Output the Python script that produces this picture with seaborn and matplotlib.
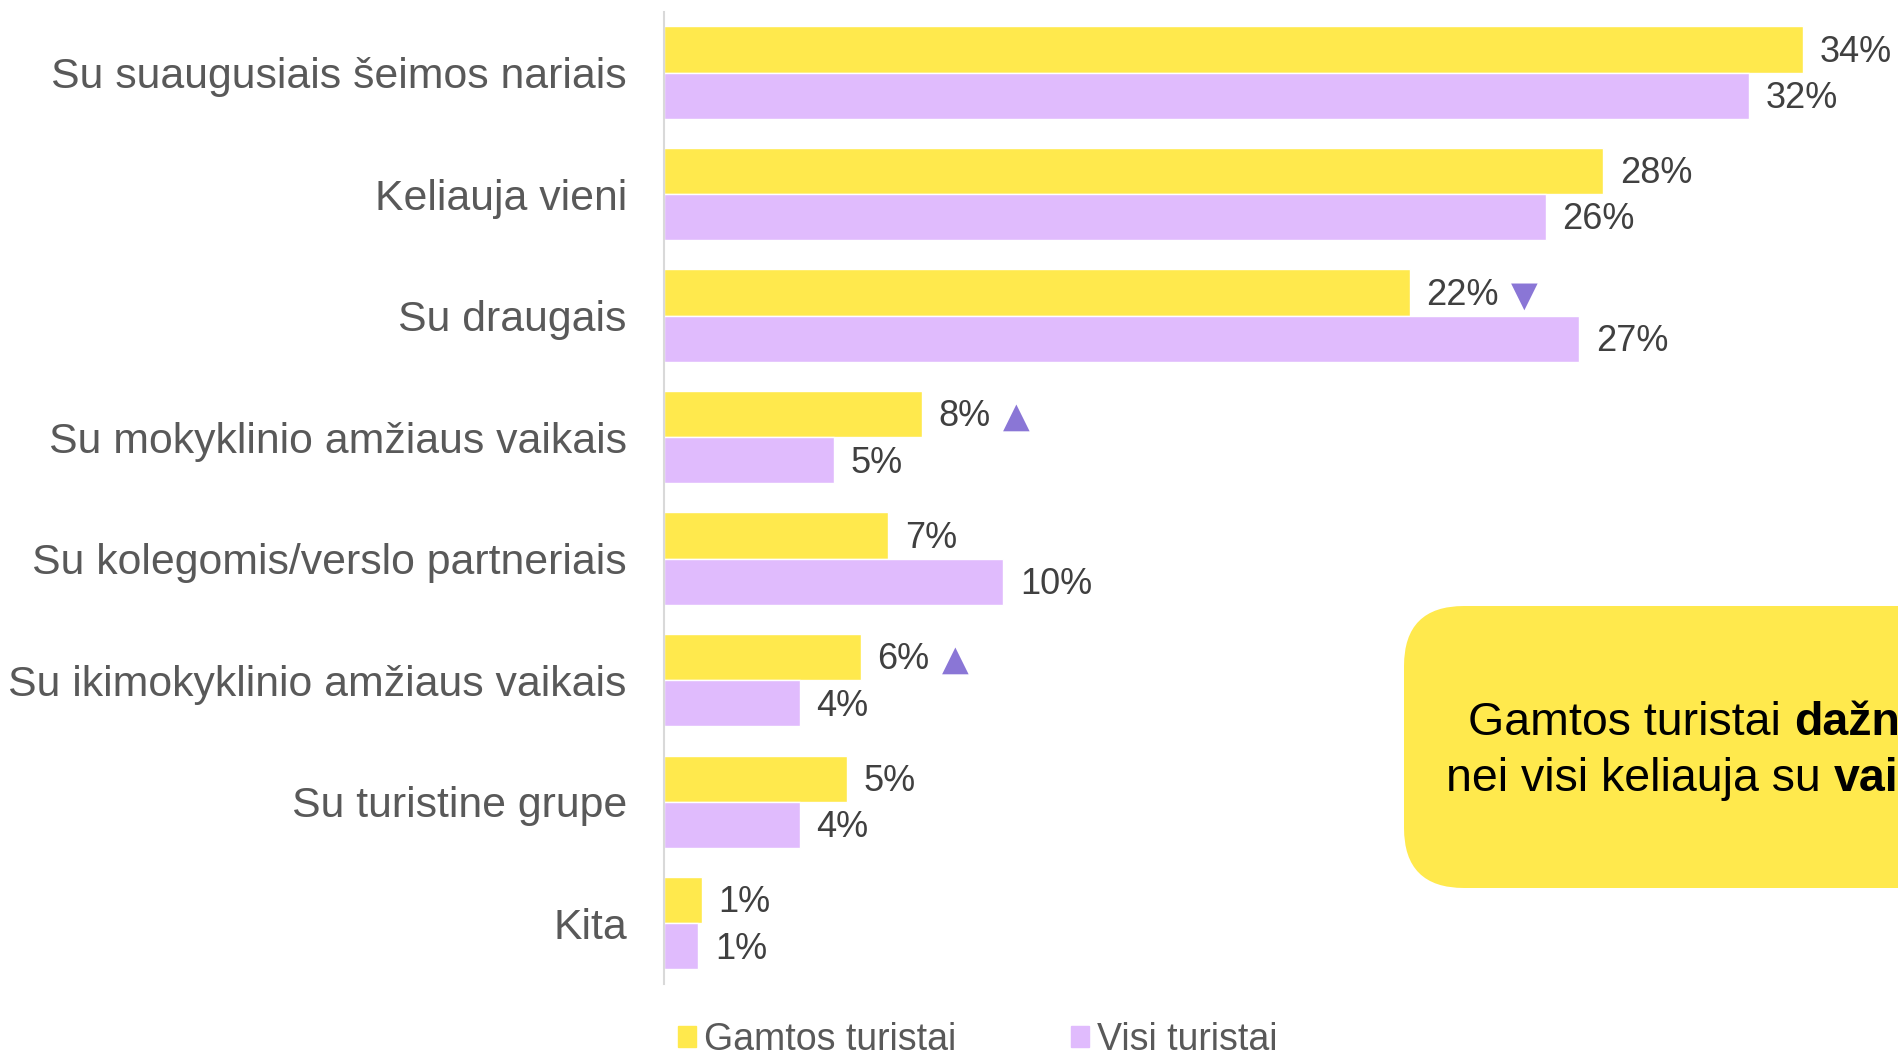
import matplotlib
matplotlib.use("Agg")
import matplotlib.pyplot as plt
import seaborn as sns
import pandas as pd
from matplotlib.patches import FancyBboxPatch
from matplotlib.transforms import IdentityTransform

# =========================================================
# DATA
# =========================================================

categories = [
    "Su suaugusiais šeimos nariais",
    "Keliauja vieni",
    "Su draugais",
    "Su mokyklinio amžiaus vaikais",
    "Su kolegomis/verslo partneriais",
    "Su ikimokyklinio amžiaus vaikais",
    "Su turistine grupe",
    "Kita",
]
gamtos = [33.6, 27.7, 22.0, 7.6, 6.6, 5.8, 5.4, 1.1]
visi = [32.0, 26.0, 27.0, 5.0, 10.0, 4.0, 4.0, 1.0]
signif = ["", "", "down", "up", "", "up", "", ""]   # Gamtos vs visi

groups = ["Gamtos turistai", "Visi turistai"]
colors = ["#FFE94D", "#E0BBFD"]

callout_plain_1 = "Gamtos turistai "
callout_bold_1 = "dažniau"
callout_plain_2 = "nei visi keliauja su "
callout_bold_2 = "vaikais"

df = pd.DataFrame({
    "category": categories * 2,
    "value": gamtos + visi,
    "group": [groups[0]] * len(categories) + [groups[1]] * len(categories),
})

# =========================================================
# PLOT
# =========================================================

sns.set_style("white")
plt.rcParams["font.family"] = ["Liberation Sans", "DejaVu Sans"]

fig = plt.figure(figsize=(18.98, 10.54), dpi=100)
ax = fig.add_axes([0.35, 0.0664, 0.65, 0.9224])

sns.barplot(
    data=df, x="value", y="category", hue="group",
    orient="h", palette=colors, width=0.76,
    saturation=1, ax=ax, legend=False,
)

ax.set_xlim(0, 36.4)
ax.set_ylim(7.5, -0.5)
ax.set_xlabel("")
ax.set_ylabel("")
ax.set_xticks([])
ax.tick_params(axis="y", length=0, pad=27, labelsize=30.8, labelcolor="#595959")

for side in ["top", "right", "bottom"]:
    ax.spines[side].set_visible(False)
ax.spines["left"].set_color("#D9D9D9")
ax.spines["left"].set_linewidth(1.5)

# value labels
label_sets = []
for cont, vals in zip(ax.containers, [gamtos, visi]):
    texts = ax.bar_label(
        cont, labels=[f"{round(v)}%" for v in vals],
        padding=12, fontsize=26, color="#404040",
    )
    for t in texts:
        x, y = t.xyann
        t.xyann = (x, y - 2)
    label_sets.append(texts)

# significance triangles next to Gamtos labels
for txt, s in zip(label_sets[0], signif):
    if not s:
        continue
    ax.annotate(
        "▼" if s == "down" else "▲",
        xy=(1, 0.5), xycoords=txt,
        xytext=(12, 0), textcoords="offset pixels",
        ha="left", va="center", fontsize=25,
        color="#8A76D6", family="DejaVu Sans",
    )

# legend
handles = [plt.Rectangle((0, 0), 1, 1, color=c) for c in colors]
fig.legend(
    handles, groups, loc="center", bbox_to_anchor=(0.515, 0.0135),
    ncol=2, frameon=False, fontsize=27, labelcolor="#595959",
    handlelength=0.5, handleheight=0.5, handletextpad=0.2,
    columnspacing=3.05,
)

# callout box (runs off the right edge)
box = FancyBboxPatch(
    (1404, 166), 700, 282,
    boxstyle="round,pad=0,rounding_size=60",
    transform=IdentityTransform(), facecolor="#FFE94D",
    edgecolor="none", zorder=0,
)
fig.patches.append(box)

t1 = fig.text(1468, 319, callout_plain_1, transform=IdentityTransform(),
              fontsize=33.5, color="black", va="baseline", ha="left")
t2 = fig.text(1446, 263, callout_plain_2, transform=IdentityTransform(),
              fontsize=33.5, color="black", va="baseline", ha="left")

fig.canvas.draw()
renderer = fig.canvas.get_renderer()
for t, bold in [(t1, callout_bold_1), (t2, callout_bold_2)]:
    bb = t.get_window_extent(renderer)
    x0, y0 = t.get_position()
    fig.text(bb.x1, y0, bold, transform=IdentityTransform(),
             fontsize=33.5, fontweight="bold", color="black",
             va="baseline", ha="left")

fig.savefig("out.png", dpi=100)
